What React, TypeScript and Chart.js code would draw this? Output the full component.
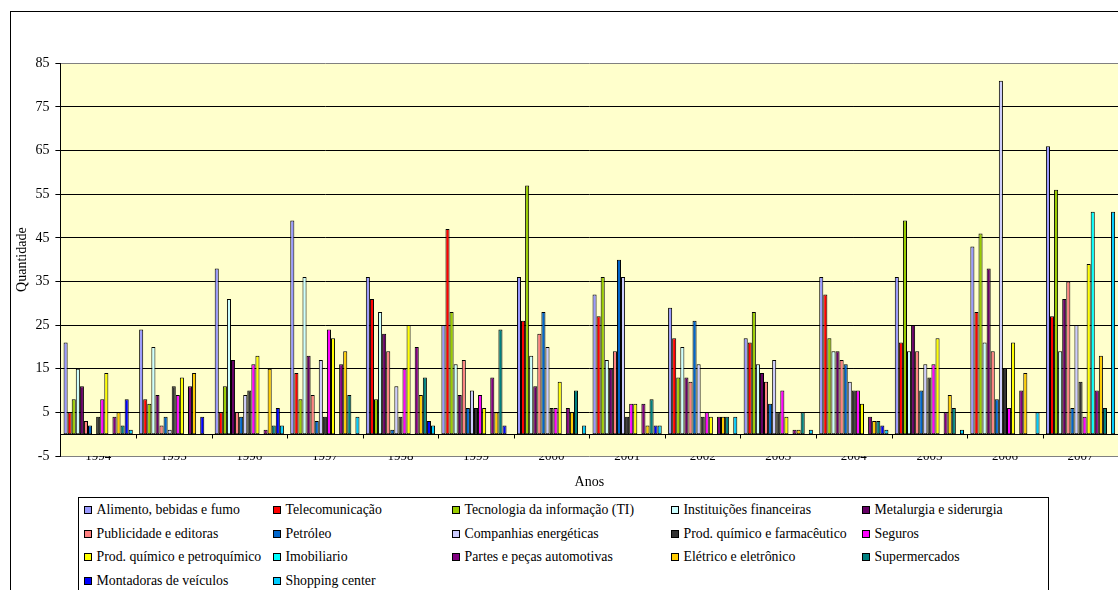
import React, { useEffect, useRef } from "react";
import { Chart, registerables } from "chart.js";

Chart.register(...registerables);
const FONT_STACK = "\"Liberation Serif\", \"Times New Roman\", serif";
Chart.defaults.font.family = FONT_STACK;
Chart.defaults.color = "#000";

// Categories and axis ticks
const years = ["1994", "1995", "1996", "1997", "1998", "1999", "2000", "2001", "2002", "2003", "2004", "2005", "2006", "2007"];
const yTicks = [-5, 5, 15, 25, 35, 45, 55, 65, 75, 85];

// Sector names, in legend order
const seriesNames = [
  "Alimento, bebidas e fumo",
  "Telecomunicação",
  "Tecnologia da informação (TI)",
  "Instituições financeiras",
  "Metalurgia e siderurgia",
  "Publicidade e editoras",
  "Petróleo",
  "Companhias energéticas",
  "Prod. químico e farmacêutico",
  "Seguros",
  "Prod. químico e petroquímico",
  "Imobiliario",
  "Partes e peças automotivas",
  "Elétrico e eletrônico",
  "Supermercados",
  "Montadoras de veículos",
  "Shopping center",
];

const seriesColors = [
  "#9999FF", "#FF0000", "#99CC00", "#CCFFFF", "#660066",
  "#FF8080", "#0066CC", "#CCCCFF", "#333333", "#FF00FF",
  "#FFFF00", "#00FFFF", "#800080", "#FFCC00", "#008080",
  "#0000FF", "#00CCFF",
];

// Number of transactions per sector, 1994-2007
const alimento = [21, 24, 38, 49, 36, 25, 36, 32, 29, 22, 36, 36, 43, 66];
const telecom = [5, 8, 5, 14, 31, 47, 26, 27, 22, 21, 32, 21, 28, 27];
const tecnologia = [8, 7, 11, 8, 8, 28, 57, 36, 13, 28, 22, 49, 46, 56];
const financeiras = [15, 20, 31, 36, 28, 16, 18, 17, 20, 16, 19, 19, 21, 19];
const metalurgia = [11, 9, 17, 18, 23, 9, 11, 15, 13, 14, 19, 25, 38, 31];
const publicidade = [3, 2, 5, 9, 19, 17, 23, 19, 12, 12, 17, 19, 19, 35];
const petroleo = [2, 4, 4, 3, 1, 6, 28, 40, 26, 7, 16, 10, 8, 6];
const energeticas = [0, 1, 9, 17, 11, 10, 20, 36, 16, 17, 12, 16, 81, 25];
const farmaceutico = [4, 11, 10, 4, 4, 6, 6, 4, 4, 5, 10, 13, 15, 12];
const seguros = [8, 9, 16, 24, 15, 9, 6, 7, 5, 10, 10, 16, 6, 4];
const petroquimico = [14, 13, 18, 22, 25, 6, 12, 7, 4, 4, 7, 22, 21, 39];
const imobiliario = [0, 0, 0, 0, 0, 0, 0, 0, 0, 0, 0, 0, 0, 51];
const autopecas = [4, 11, 1, 16, 20, 13, 6, 7, 4, 1, 4, 5, 10, 10];
const eletrico = [5, 14, 15, 19, 9, 5, 5, 2, 4, 1, 3, 9, 14, 18];
const supermercados = [2, 0, 2, 9, 13, 24, 10, 8, 4, 5, 3, 6, 0, 6];
const montadoras = [8, 4, 6, 0, 3, 2, 0, 2, 0, 0, 2, 0, 0, 0];
const shopping = [1, 0, 2, 4, 2, 0, 2, 2, 4, 1, 1, 1, 5, 51];

const seriesValues = [
  alimento, telecom, tecnologia, financeiras, metalurgia,
  publicidade, petroleo, energeticas, farmaceutico, seguros,
  petroquimico, imobiliario, autopecas, eletrico, supermercados,
  montadoras, shopping,
];

const CANVAS_W = 1140;
const CANVAS_H = 500;

// Pale yellow plot area
const plotBackground = {
  id: "plotBackground",
  beforeDraw(chart: any) {
    const { ctx, chartArea } = chart;
    ctx.save();
    ctx.fillStyle = "#FFFFCC";
    ctx.fillRect(chartArea.left, chartArea.top, chartArea.right - chartArea.left, chartArea.bottom - chartArea.top);
    ctx.restore();
  },
};

// Category axis line crossing at zero, with tick marks between the years
const zeroAxis = {
  id: "zeroAxis",
  afterDatasetsDraw(chart: any) {
    const { ctx, chartArea, scales } = chart;
    const y0 = Math.round(scales.y.getPixelForValue(0)) + 0.5;
    ctx.save();
    ctx.strokeStyle = "#000";
    ctx.lineWidth = 1;
    ctx.beginPath();
    ctx.moveTo(chartArea.left, y0);
    ctx.lineTo(chartArea.right, y0);
    for (let i = 0; i <= years.length; i++) {
      const x = Math.round(scales.x.getPixelForValue(i - 0.5)) + 0.5;
      ctx.moveTo(x, y0);
      ctx.lineTo(x, y0 + 4);
    }
    ctx.stroke();
    ctx.restore();
  },
};

const legendCols = [84, 273, 452, 671, 862];
const legendRows = [510, 534, 557, 581];

export default function App() {
  const canvasRef = useRef<HTMLCanvasElement>(null);

  useEffect(() => {
    const chart = new Chart(canvasRef.current as HTMLCanvasElement, {
      type: "bar",
      data: {
        labels: years,
        datasets: seriesNames.map((name, i) => ({
          label: name,
          data: seriesValues[i],
          backgroundColor: seriesColors[i],
          borderColor: "#000",
          borderWidth: 1,
          borderSkipped: false,
          inflateAmount: 0,
          categoryPercentage: 0.916,
          barPercentage: 1,
        })),
      },
      options: {
        animation: false,
        responsive: false,
        devicePixelRatio: 1,
        layout: { padding: { left: 0, top: 63.3, right: CANVAS_W - 1118.3, bottom: 4 } },
        plugins: { legend: { display: false }, tooltip: { enabled: false } },
        scales: {
          x: {
            grid: { display: false, drawTicks: false },
            border: { display: false },
            ticks: { padding: -7, color: "#000", font: { size: 13 }, maxRotation: 0, autoSkip: false },
            title: { display: true, text: "Anos", color: "#000", font: { size: 14 }, padding: { top: 0, bottom: 5 } },
            afterFit: (scale: any) => {
              scale.height = 40;
            },
          },
          y: {
            min: -5,
            max: 85,
            afterBuildTicks: (scale: any) => {
              scale.ticks = yTicks.map((v) => ({ value: v }));
            },
            grid: {
              color: (c: any) => (c.tick && (c.tick.value === -5 || c.tick.value === 85) ? "#808080" : "#000"),
              tickColor: "#000",
              tickLength: 5,
              lineWidth: 1,
            },
            border: { color: "#000", width: 1 },
            ticks: { padding: 6, color: "#000", font: { size: 14 } },
            title: { display: true, text: "Quantidade", color: "#000", font: { size: 14 }, padding: { top: 14, bottom: 0 } },
            afterFit: (scale: any) => {
              scale.width = 60.4;
            },
          },
        },
      },
      plugins: [plotBackground, zeroAxis],
    });
    return () => chart.destroy();
  }, []);

  return (
    <div
      style={{
        position: "absolute",
        left: 0,
        top: 0,
        width: 1118,
        height: 590,
        overflow: "hidden",
        background: "#fff",
      }}
    >
      <div
        style={{
          position: "absolute",
          left: 10,
          top: 11,
          width: 1200,
          height: 700,
          border: "1px solid #000",
        }}
      />
      <canvas
        ref={canvasRef}
        width={CANVAS_W}
        height={CANVAS_H}
        style={{ position: "absolute", left: 0, top: 0 }}
      />
      <div
        style={{
          position: "absolute",
          left: 78,
          top: 497,
          width: 969,
          height: 110,
          border: "1px solid #000",
          background: "#fff",
          fontFamily: FONT_STACK,
          fontSize: 13.8,
          color: "#000",
        }}
      >
        {seriesNames.map((name, k) => {
          const r = Math.floor(k / 5);
          const c = k % 5;
          return (
            <div
              key={name}
              style={{
                position: "absolute",
                left: legendCols[c] - 79,
                top: legendRows[r] - 498 - 9,
                height: 18,
                display: "flex",
                alignItems: "center",
                whiteSpace: "nowrap",
                lineHeight: "18px",
              }}
            >
              <span
                style={{
                  display: "inline-block",
                  width: 6,
                  height: 6,
                  border: "1px solid #000",
                  background: seriesColors[k],
                  marginRight: 4.5,
                }}
              />
              {name}
            </div>
          );
        })}
      </div>
    </div>
  );
}
